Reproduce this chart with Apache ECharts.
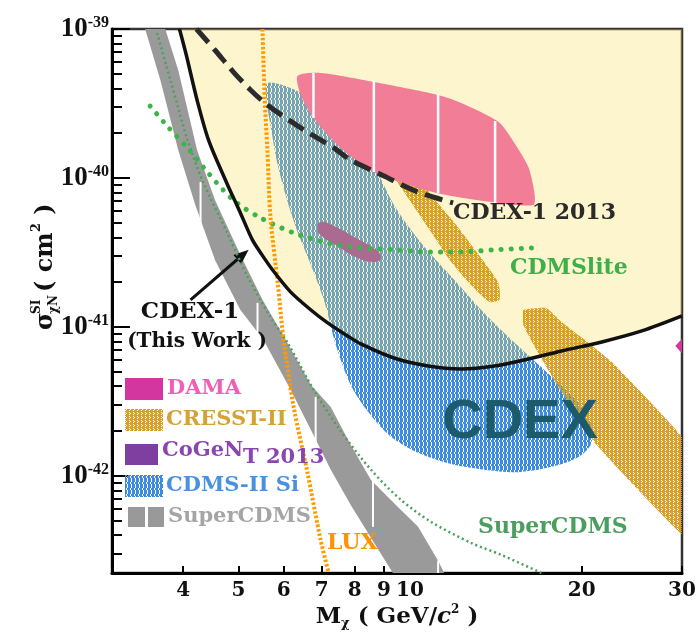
<!DOCTYPE html>
<html><head><meta charset="utf-8">
<script src="https://cdn.jsdelivr.net/npm/echarts@6/dist/echarts.min.js"></script>
<style>html,body{margin:0;padding:0;background:#fff}#c{width:697px;height:634px}</style>
</head><body><div id="c"></div>
<script>
// ---------- axes ----------
const xRange = [3, 30];
const yRange = [2.23e-43, 1e-39];
const xTickValues = [4, 5, 6, 7, 8, 9, 10, 20, 30];
const yMajorTicks = [1e-42, 1e-41, 1e-40, 1e-39];
const yMinorTicks = [3e-43, 4e-43, 5e-43, 6e-43, 7e-43, 8e-43, 9e-43,
  2e-42, 3e-42, 4e-42, 5e-42, 6e-42, 7e-42, 8e-42, 9e-42,
  2e-41, 3e-41, 4e-41, 5e-41, 6e-41, 7e-41, 8e-41, 9e-41,
  2e-40, 3e-40, 4e-40, 5e-40, 6e-40, 7e-40, 8e-40, 9e-40];

// ---------- data (mass GeV, cross-section cm^2) ----------
const cdex1 = [[3.94,1e-39],[4.05,6.69e-40],[4.23,3.34e-40],[4.43,1.8e-40],[4.76,9.4e-41],[5.04,5.82e-41],[5.29,3.84e-41],[5.47,3.14e-41],[5.74,2.41e-41],[6.17,1.72e-41],[6.70,1.30e-41],[7.17,1.064e-41],[7.72,8.84e-42],[8.20,7.69e-42],[9.37,6.19e-42],[10.76,5.47e-42],[12.30,5.23e-42],[14.06,5.47e-42],[16.13,6.10e-42],[18.44,6.90e-42],[21.7,7.93e-42],[25.5,9.40e-42],[30,1.186e-41]];
const cdex2013 = [[4.22,1e-39],[4.55,7.2e-40],[4.90,5.14e-40],[5.25,3.9e-40],[5.62,3.09e-40],[6.43,2.17e-40],[7.35,1.59e-40],[7.87,1.32e-40],[9.00,1.031e-40],[10.33,8.05e-41],[11.90,6.8e-41]];
const cdmsLite = [[3.50,3.04e-40],[3.75,2.23e-40],[4.07,1.59e-40],[4.41,1.097e-40],[4.90,7.1e-41],[5.47,5.39e-41],[6.25,4.28e-41],[7.17,3.66e-41],[8.20,3.39e-41],[9.37,3.3e-41],[10.76,3.19e-41],[12.3,3.19e-41],[14.17,3.3e-41],[16.33,3.39e-41]];
const superCdmsLine = [[3.60,9.4e-40],[3.80,4.5e-40],[3.92,2.95e-40],[4.07,1.8e-40],[4.34,9.26e-41],[4.78,4.28e-41],[5.19,2.17e-41],[5.69,1.167e-41],[6.10,7.81e-42],[6.77,3.8e-42],[7.56,2.0e-42],[8.54,1.1e-42],[9.64,6.9e-43],[10.89,4.91e-43],[12.80,3.55e-43],[14.46,2.95e-43],[17.0,2.23e-43]];
const lux = [[5.51,1e-39],[5.56,3.34e-40],[5.62,1.54e-40],[5.69,5.47e-41],[5.86,1.97e-41],[6.00,8.2e-42],[6.25,2.90e-42],[6.61,1.047e-42],[6.97,3.7e-43],[7.20,2.23e-43]];
const superCdmsBand = [[3.43,1e-39],[3.65,4.5e-40],[3.92,1.54e-40],[4.20,6.59e-41],[4.55,2.8e-41],[5.04,1.3e-41],[5.53,8.2e-42],[6.17,3.8e-42],[6.77,1.885e-42],[7.26,1.1e-42],[7.87,6.39e-43],[8.54,3.84e-43],[9.33,2.23e-43],[11.48,2.23e-43],[11.2,2.7e-43],[10.33,4.55e-43],[9.64,5.9e-43],[8.54,9.4e-43],[7.87,1.61e-42],[7.26,2.90e-42],[6.70,4.08e-42],[6.05,8.2e-42],[5.51,1.52e-41],[5.04,3.04e-41],[4.55,7.1e-41],[4.23,1.54e-40],[3.92,5.3e-40],[3.72,1e-39]];
const superCdmsGaps = [[4.29,9.4e-41,4.28e-41],[5.40,1.45e-41,7.0e-42],[6.83,3.39e-42,1.5e-42],[8.61,9.4e-43,4.55e-43],[11.2,2.7e-43,2.23e-43]];
const cdmsSi = [[5.62,4.34e-40],[6.17,4.02e-40],[6.97,3.09e-40],[7.87,2.1e-40],[8.64,1.22e-40],[9.37,6.59e-41],[10.46,3.66e-41],[11.95,2.07e-41],[13.33,1.3e-41],[15.06,8.2e-42],[17.35,4.99e-42],[19.6,3.2e-42],[20.66,2.30e-42],[20.8,1.665e-42],[19.76,1.34e-42],[17.71,1.15e-42],[15.49,1.06e-42],[13.5,1.1e-42],[11.81,1.20e-42],[10.33,1.43e-42],[9.26,1.83e-42],[8.47,2.65e-42],[7.87,4.08e-42],[7.41,7.57e-42],[7.06,1.52e-41],[6.70,2.61e-41],[6.35,4.34e-41],[6.10,6.9e-41],[5.86,1.22e-40],[5.69,2.27e-40],[5.60,3.34e-40]];
const cresst1 = [[8.82,1.59e-40],[9.33,1.64e-40],[10.04,1.22e-40],[10.89,7.69e-41],[12.05,4.84e-41],[13.33,2.90e-41],[14.29,1.97e-41],[14.35,1.52e-41],[13.78,1.47e-41],[12.80,1.91e-41],[11.81,2.73e-41],[10.89,4.34e-41],[9.84,7.69e-41],[9.19,1.13e-40],[8.78,1.43e-40]];
const cresst2 = [[15.81,1.3e-41],[17.35,1.34e-41],[18.44,1.08e-41],[20.25,8.2e-42],[22.6,5.82e-42],[25.0,3.90e-42],[27.7,2.57e-42],[30.2,1.74e-42],[30.2,4.02e-43],[27.7,5.47e-43],[24.2,9.4e-43],[21.1,1.665e-42],[18.2,3.96e-42],[16.67,7.0e-42],[15.81,1.03e-41]];
const cogent = [[6.97,5.07e-41],[7.35,4.76e-41],[8.03,3.96e-41],[8.71,3.3e-41],[8.89,2.90e-41],[8.61,2.73e-41],[8.03,2.95e-41],[7.41,3.55e-41],[6.97,4.14e-41],[6.88,4.62e-41]];
const dama = [[6.35,4.84e-40],[6.97,5.07e-40],[8.64,4.41e-40],[11.2,3.61e-40],[12.3,3.19e-40],[14.29,2.38e-40],[15.24,1.72e-40],[16.13,1.186e-40],[16.53,7.93e-41],[16.46,6.59e-41],[14.29,6.8e-41],[11.81,7.57e-41],[10.33,8.57e-41],[8.64,1.097e-40],[7.56,1.59e-40],[6.77,2.53e-40],[6.43,3.61e-40]];
const damaGaps = [[6.77,5.07e-40,2.53e-40],[8.64,4.48e-40,1.097e-40],[11.2,3.66e-40,7.93e-41],[14.1,2.41e-40,6.8e-41]];
const damaHigh = [[31,9.5e-42],[29.2,7.46e-42],[31,5.8e-42]];
const arrowFromTo = [[4.12,1.52e-41],[5.21,3.3e-41]];

// the y axis is plotted in units of 1e-40 cm^2 (avoids float rounding of tiny tick values)
const yUnit = 1e-40;
const sc = pts => pts.map(p => [p[0]].concat(p.slice(1).map(v => v / yUnit)));

// ---------- patterns ----------
function makePattern(color, rows) {
  const c = document.createElement('canvas');
  c.width = rows[0].length; c.height = rows.length;
  const g = c.getContext('2d');
  g.fillStyle = color;
  rows.forEach((r, y) => { for (let x = 0; x < r.length; x++) if (r[x] === '#') g.fillRect(x, y, 1, 1); });
  return { image: c, repeat: 'repeat' };
}
const bluePat = makePattern('#3b8be0', ['###.', '###.', '##.#', '##.#', '###.', '###.']);
const goldPat = makePattern('#d9a21e', ['#.##', '##.#', '#.##', '####']);

// ---------- helpers ----------
function polySeries(name, rawPts, style, smooth) {
  const pts = sc(rawPts);
  return {
    type: 'custom', name, coordinateSystem: 'cartesian2d', clip: true, silent: true,
    data: pts, encode: { x: 0, y: 1 },
    renderItem: (params, api) => params.dataIndex === 0 ? {
      type: 'polygon', shape: { points: pts.map(p => api.coord(p)), smooth: smooth || 0 }, style
    } : null
  };
}
function gapSeries(name, rows, width) {
  return {
    type: 'custom', name, coordinateSystem: 'cartesian2d', clip: true, silent: true,
    data: sc(rows), encode: { x: 0, y: [1, 2] },
    renderItem: (params, api) => {
      const a = api.coord([api.value(0), api.value(1)]);
      const b = api.coord([api.value(0), api.value(2)]);
      return { type: 'line', shape: { x1: a[0], y1: a[1], x2: b[0], y2: b[1] }, style: { stroke: '#fff', lineWidth: width } };
    }
  };
}
function lineSeries(name, pts, color, width, type, cap, smooth) {
  return { type: 'line', name, data: sc(pts), showSymbol: false, symbol: 'none', smooth: smooth, silent: true, clip: true,
    lineStyle: { color, width, type, cap: cap || 'butt' } };
}
const serif = 'DejaVu Serif';
const tserif = 'Liberation Serif';
function txt(text, x, y, size, fill, align) {
  return { type: 'text', x, y, z: 100, silent: true,
    style: { text, fill, font: 'bold ' + size + 'px "' + serif + '"', textAlign: align || 'left', textVerticalAlign: 'middle' } };
}

const yellowPts = cdex1.concat([[xRange[1], yRange[1]]]);
const arrowPts = sc(arrowFromTo);

const chart = echarts.init(document.getElementById('c'), null, { renderer: 'canvas' });
chart.setOption({
  animation: false,
  backgroundColor: '#fff',
  grid: { left: 112, right: 15, top: 29, bottom: 61, show: true, borderColor: '#333', borderWidth: 2.5, containLabel: false, outerBoundsMode: 'none' },
  xAxis: {
    type: 'log', logBase: 10, min: xRange[0], max: xRange[1],
    axisLine: { lineStyle: { color: '#000', width: 3 } },
    axisTick: { inside: true, length: 7, lineStyle: { color: '#000', width: 2 }, customValues: xTickValues },
    axisLabel: { customValues: xTickValues, margin: 8, color: '#111', fontFamily: serif, fontWeight: 'bold', fontSize: 20 },
    splitLine: { show: false }, minorTick: { show: false }
  },
  yAxis: [{
    type: 'log', logBase: 10, min: yRange[0] / yUnit, max: yRange[1] / yUnit,
    axisLine: { lineStyle: { color: '#000', width: 3 } },
    axisTick: { inside: true, length: 18, lineStyle: { color: '#000', width: 2 }, customValues: yMajorTicks.map(v => v / yUnit) },
    axisLabel: {
      customValues: yMajorTicks.map(v => v / yUnit), margin: 3,
      formatter: v => '{b|10}{e|' + (Math.round(Math.log10(v)) - 40) + '}',
      rich: {
        b: { fontFamily: tserif, fontWeight: 'bold', fontSize: 27, color: '#111', lineHeight: 28 },
        e: { fontFamily: tserif, fontWeight: 'bold', fontSize: 16, color: '#111', verticalAlign: 'top', lineHeight: 12 }
      }
    },
    splitLine: { show: false }
  }, {
    type: 'log', logBase: 10, min: yRange[0] / yUnit, max: yRange[1] / yUnit, position: 'left',
    axisLine: { show: false },
    axisTick: { inside: true, length: 10, lineStyle: { color: '#000', width: 2 }, customValues: yMinorTicks.map(v => v / yUnit) },
    axisLabel: { show: false }, splitLine: { show: false }
  }],
  series: [
    polySeries('SuperCDMS band', superCdmsBand, { fill: '#9a9a9a' }),
    gapSeries('SuperCDMS gaps', superCdmsGaps, 2),
    polySeries('CDMS-II Si', cdmsSi, { fill: bluePat }, 0.3),
    polySeries('CoGeNT 2013', cogent, { fill: '#8c3aa8' }, 0.5),
    polySeries('CDEX-1 excluded', yellowPts, { fill: 'rgba(245,222,88,0.3)' }),
    polySeries('CRESST-II a', cresst1, { fill: goldPat }, 0.2),
    polySeries('CRESST-II b', cresst2, { fill: goldPat }, 0.1),
    polySeries('DAMA', dama, { fill: '#f27d96' }, 0.25),
    gapSeries('DAMA gaps', damaGaps, 2.5),
    polySeries('DAMA high', damaHigh, { fill: '#d6369f' }),
    lineSeries('SuperCDMS', superCdmsLine, '#4aa05c', 2.5, [2, 3], 'butt', 0.3),
    lineSeries('CDMSlite', cdmsLite, '#3cb448', 5, [0.1, 10], 'round', 0.3),
    lineSeries('LUX', lux, '#ff9a00', 4, [2.5, 2], 'butt', 0.3),
    lineSeries('CDEX-1 2013', cdex2013, '#2b2b2b', 5, [18, 8], 'butt', 0.3),
    lineSeries('CDEX-1', cdex1, '#111', 3.5, 'solid', 'butt', 0.3),
    {
      type: 'custom', name: 'arrow', coordinateSystem: 'cartesian2d', silent: true, data: arrowPts, encode: { x: 0, y: 1 },
      renderItem: (params, api) => {
        if (params.dataIndex !== 0) return null;
        const a = api.coord(arrowPts[0]), b = api.coord(arrowPts[1]);
        const dx = b[0] - a[0], dy = b[1] - a[1], L = Math.hypot(dx, dy), ux = dx / L, uy = dy / L;
        const hl = 15, hw = 6, bx = b[0] - ux * hl, by = b[1] - uy * hl;
        return { type: 'group', children: [
          { type: 'line', shape: { x1: a[0], y1: a[1], x2: bx, y2: by }, style: { stroke: '#111', lineWidth: 3 } },
          { type: 'polygon', shape: { points: [[b[0], b[1]], [bx - uy * hw, by + ux * hw], [bx + uy * hw, by - ux * hw]] }, style: { fill: '#111' } }
        ] };
      }
    }
  ],
  graphic: [
    // y axis title
    { type: 'group', x: 46, y: 330, rotation: Math.PI / 2, z: 100, silent: true, children: [
      txt('σ', 0, 0, 24, '#111'),
      txt('SI', 16, -9, 12, '#111'),
      txt('χN', 16, 8, 12, '#111'),
      txt('( cm', 38, 0, 24, '#111'),
      txt('2', 98, -9, 13, '#111'),
      txt(' )', 107, 0, 24, '#111')
    ] },
    // x axis title
    { type: 'text', x: 397, y: 617, z: 100, silent: true, style: {
      text: '{a|M}{s|χ}{a| ( GeV/}{i|c}{p|2}{a| )}', textAlign: 'center', textVerticalAlign: 'middle',
      rich: {
        a: { fontFamily: serif, fontWeight: 'bold', fontSize: 23, fill: '#111', lineHeight: 26 },
        s: { fontFamily: serif, fontWeight: 'bold', fontSize: 13, fill: '#111', verticalAlign: 'bottom', lineHeight: 13 },
        i: { fontFamily: serif, fontWeight: 'bold', fontStyle: 'italic', fontSize: 23, fill: '#111', lineHeight: 26 },
        p: { fontFamily: serif, fontWeight: 'bold', fontSize: 12, fill: '#111', verticalAlign: 'top', lineHeight: 12 }
      } } },
    // legend
    { type: 'rect', shape: { x: 125, y: 378, width: 38, height: 22 }, style: { fill: '#d4369f' }, z: 100, silent: true },
    txt('DAMA', 167, 389, 21, '#f25db5'),
    { type: 'rect', shape: { x: 125, y: 409, width: 38, height: 22 }, style: { fill: goldPat }, z: 100, silent: true },
    txt('CRESST-II', 166, 420, 21, '#d4a235'),
    { type: 'rect', shape: { x: 125, y: 444, width: 33, height: 21 }, style: { fill: '#7e3fa0' }, z: 100, silent: true },
    txt('CoGeN', 162, 451, 21, '#8a45b0'),
    txt('T 2013', 243, 458, 21, '#8a45b0'),
    { type: 'rect', shape: { x: 125, y: 475, width: 38, height: 22 }, style: { fill: bluePat }, z: 100, silent: true },
    txt('CDMS-II Si', 166, 486, 21, '#4a90e0'),
    { type: 'rect', shape: { x: 128, y: 507, width: 17, height: 20 }, style: { fill: '#999' }, z: 100, silent: true },
    { type: 'rect', shape: { x: 148, y: 507, width: 16, height: 20 }, style: { fill: '#999' }, z: 100, silent: true },
    txt('SuperCDMS', 168, 517, 21, '#a5a5a5'),
    // annotations
    txt('CDEX-1', 190, 312, 23, '#111', 'center'),
    txt('(This Work )', 197, 342, 20, '#111', 'center'),
    txt('CDEX-1 2013', 453, 213, 22, '#2a2a2a'),
    txt('CDMSlite', 510, 268, 22, '#3db04a'),
    txt('SuperCDMS', 478, 527, 22, '#4c9e5e'),
    txt('LUX', 327, 543, 22, '#ff9200'),
    { type: 'text', x: 520, y: 423, z: 100, silent: true, style: { text: 'CDEX', fill: '#1c5b6b', font: 'bold 56px "Liberation Sans"', textAlign: 'center', textVerticalAlign: 'middle' } }
  ]
});
</script></body></html>
